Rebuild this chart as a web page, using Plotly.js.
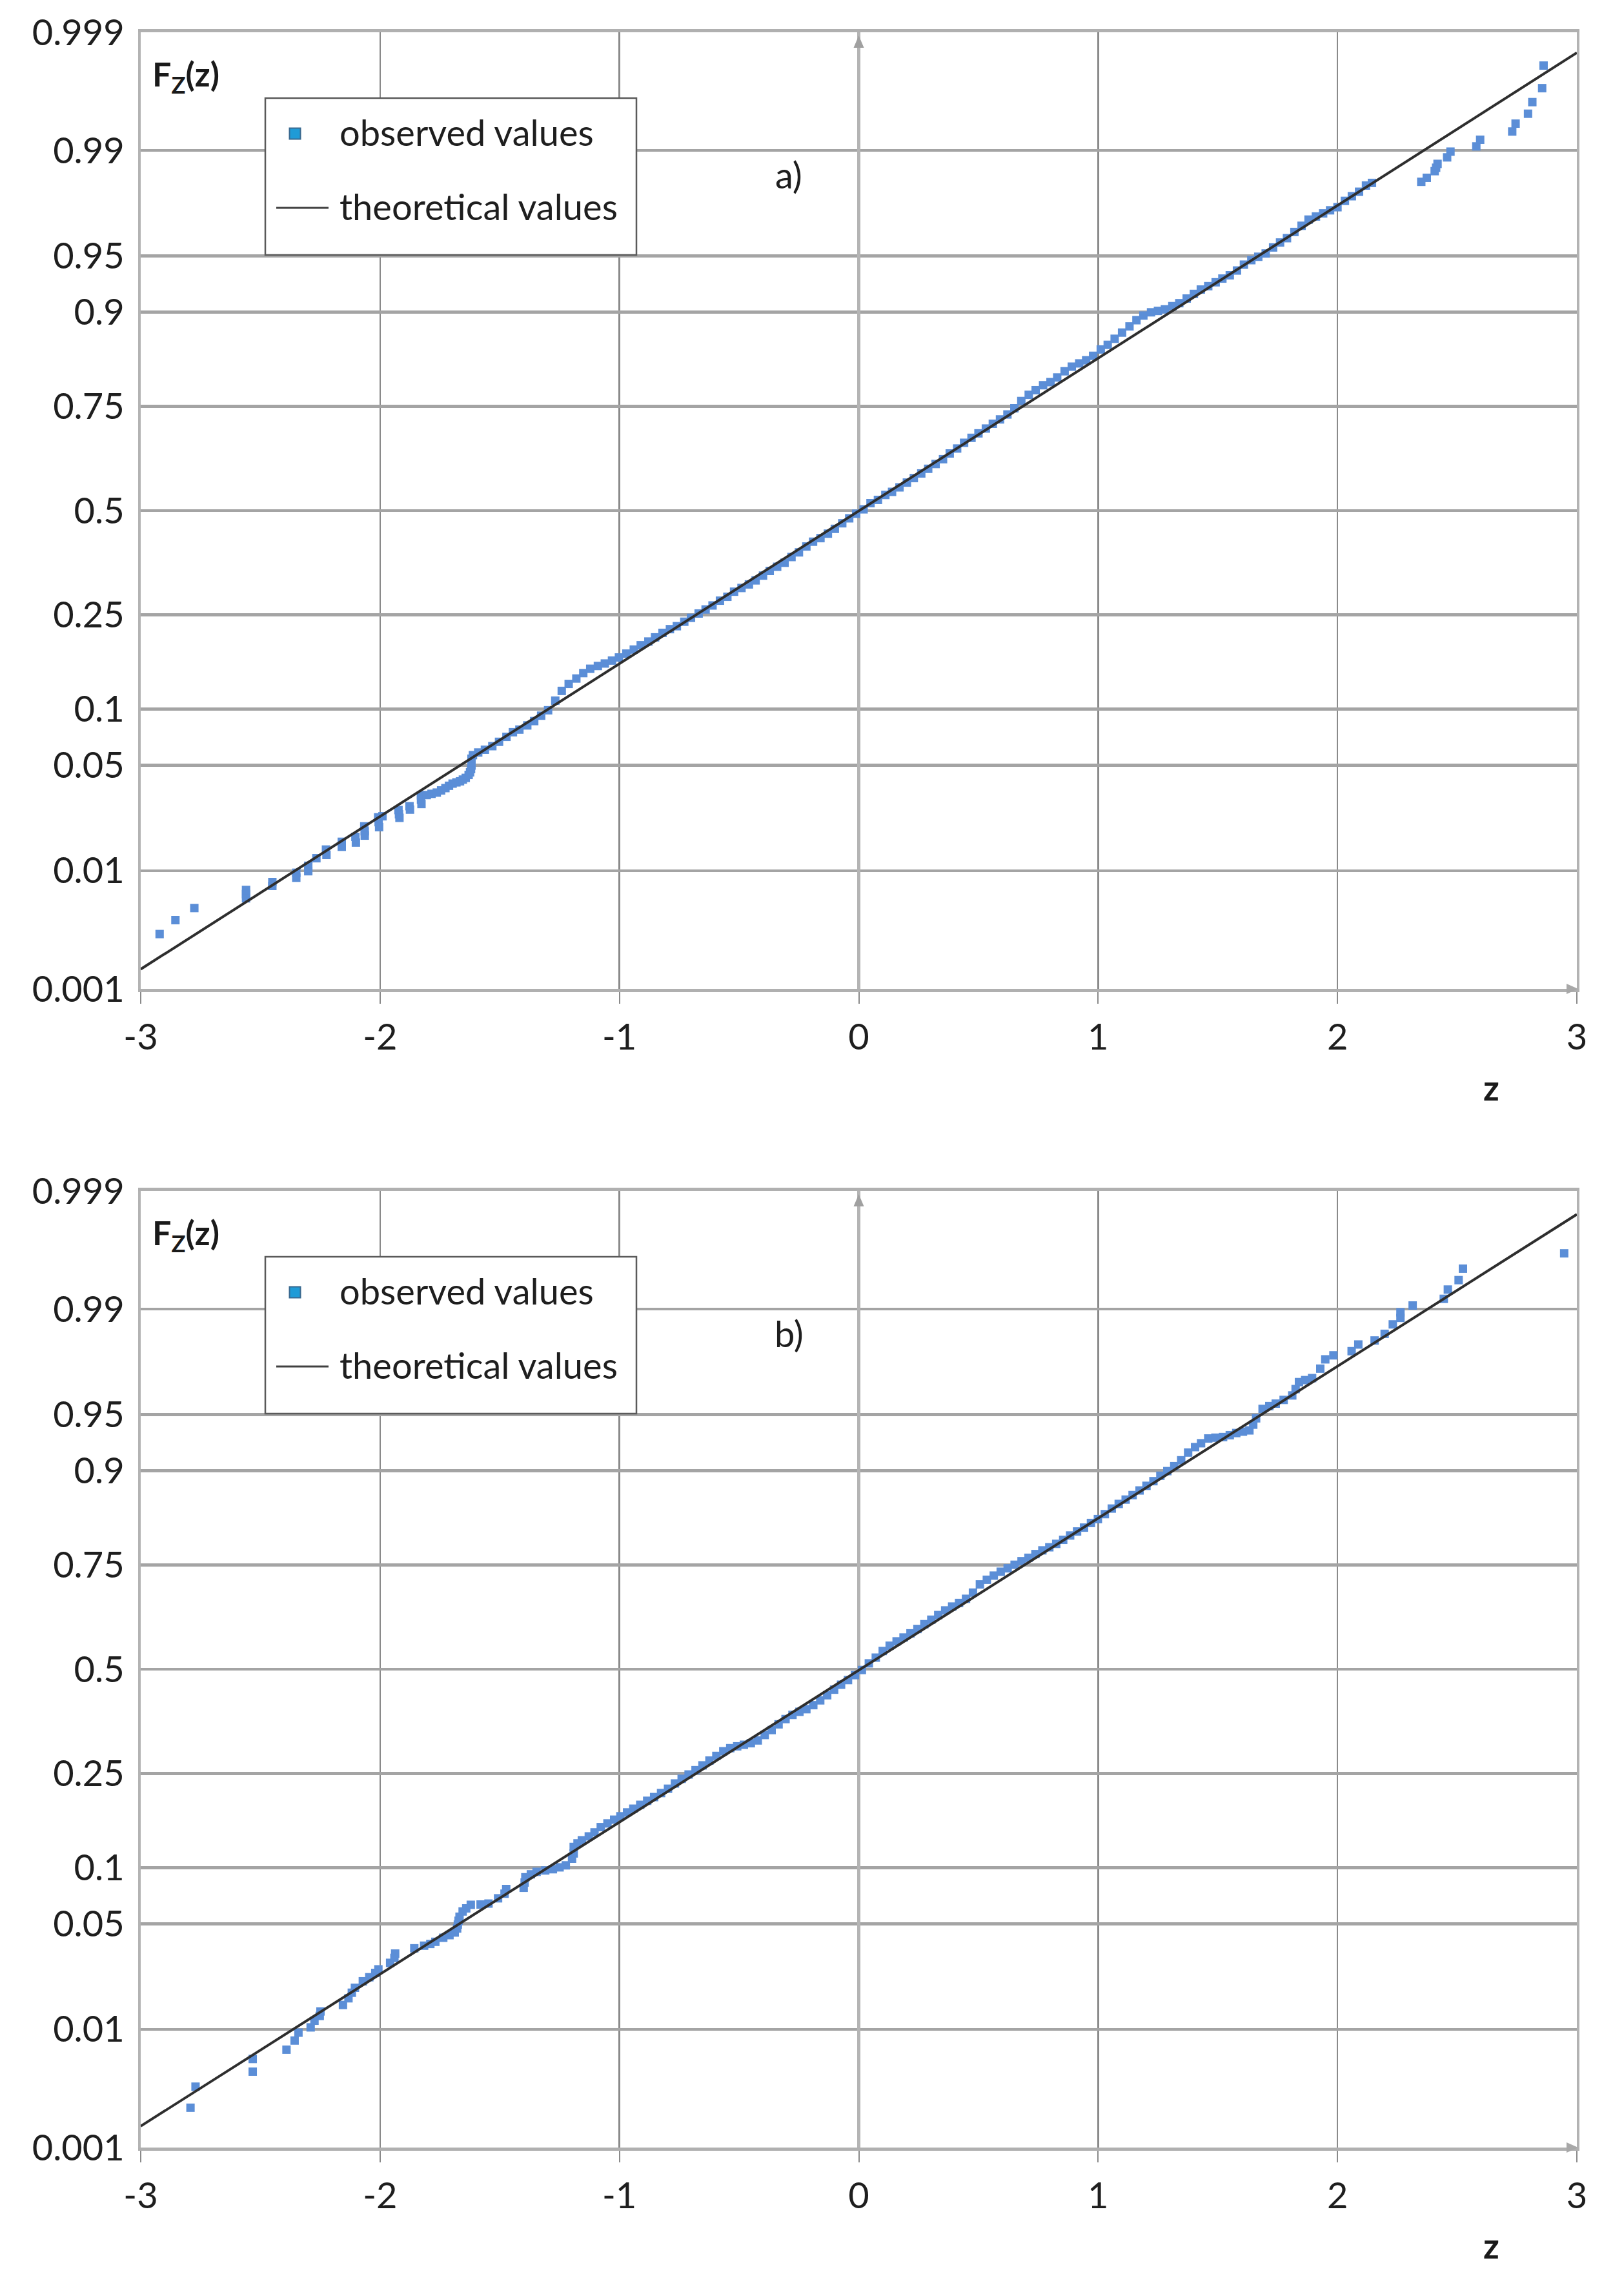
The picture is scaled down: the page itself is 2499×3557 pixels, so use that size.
<!DOCTYPE html>
<html>
<head>
<meta charset="utf-8">
<script src="https://cdn.plot.ly/plotly-3.0.1.min.js"></script>
<style>
html,body{margin:0;padding:0;background:#fff;}
#chart{width:2499px;height:3557px;}
</style>
</head>
<body>
<div id="chart"></div>
<script>
// ---------- DATA ----------
// Probability tick labels of the normal-probability y axis
const probLabels = [0.001, 0.01, 0.05, 0.1, 0.25, 0.5, 0.75, 0.9, 0.95, 0.99, 0.999];
// x tick labels (standardized variable z)
const zTicks = [-3, -2, -1, 0, 1, 2, 3];

// Panel a) observed values: [z, standard-normal quantile of the empirical F]
const observedA = [
[-2.921,-2.736],[-2.855,-2.646],[-2.776,-2.568],[-2.560,-2.451],[-2.560,-2.478],[-2.560,-2.505],
[-2.450,-2.400],[-2.450,-2.425],[-2.350,-2.340],[-2.350,-2.372],[-2.300,-2.295],[-2.300,-2.330],
[-2.266,-2.246],[-2.226,-2.190],[-2.224,-2.225],[-2.160,-2.140],[-2.160,-2.172],[-2.103,-2.108],
[-2.101,-2.145],[-2.066,-2.040],[-2.064,-2.072],[-2.064,-2.100],[-2.008,-1.982],[-2.006,-2.013],
[-2.004,-2.045],[-1.990,-1.975],[-1.923,-1.935],[-1.921,-1.962],[-1.919,-1.985],[-1.877,-1.910],
[-1.875,-1.932],[-1.829,-1.840],[-1.829,-1.868],[-1.827,-1.896],[-1.805,-1.838],[-1.785,-1.830],
[-1.763,-1.822],[-1.745,-1.808],[-1.727,-1.793],[-1.712,-1.778],[-1.697,-1.764],[-1.681,-1.756],
[-1.666,-1.749],[-1.654,-1.738],[-1.642,-1.727],[-1.630,-1.708],[-1.624,-1.691],[-1.620,-1.670],
[-1.618,-1.647],[-1.618,-1.625],[-1.618,-1.603],[-1.612,-1.580],
[-1.590,-1.563],[-1.562,-1.545],[-1.531,-1.522],[-1.503,-1.494],[-1.472,-1.462],[-1.445,-1.432],
[-1.418,-1.415],[-1.385,-1.388],[-1.356,-1.360],[-1.327,-1.325],[-1.298,-1.290],[-1.268,-1.228],
[-1.241,-1.165],[-1.212,-1.120],[-1.180,-1.085],[-1.151,-1.050],[-1.122,-1.022],[-1.090,-1.004],
[-1.061,-0.988],[-1.031,-0.969],[-1.002,-0.949],[-0.971,-0.924],[-0.940,-0.898],[-0.911,-0.870],
[-0.879,-0.846],[-0.851,-0.819],[-0.820,-0.790],[-0.789,-0.766],[-0.760,-0.747],[-0.729,-0.718],
[-0.701,-0.693],[-0.669,-0.665],[-0.640,-0.639],[-0.611,-0.613],[-0.580,-0.582],[-0.549,-0.557],
[-0.521,-0.524],[-0.490,-0.500],[-0.459,-0.477],[-0.431,-0.451],[-0.400,-0.420],[-0.372,-0.390],
[-0.341,-0.363],[-0.310,-0.337],[-0.281,-0.300],[-0.250,-0.270],[-0.219,-0.232],[-0.191,-0.201],
[-0.160,-0.178],[-0.129,-0.149],[-0.100,-0.118],[-0.069,-0.082],[-0.040,-0.050],[-0.011,-0.020],
[0.020,0.008],[0.049,0.048],[0.080,0.069],[0.111,0.101],[0.139,0.121],[0.170,0.150],
[0.201,0.181],[0.230,0.210],[0.261,0.240],[0.290,0.270],[0.321,0.301],[0.352,0.332],
[0.380,0.369],[0.411,0.401],[0.440,0.438],[0.471,0.470],[0.500,0.499],[0.531,0.530],
[0.560,0.561],[0.590,0.589],[0.621,0.621],[0.650,0.661],[0.679,0.708],[0.710,0.748],
[0.739,0.778],[0.770,0.810],[0.801,0.830],[0.829,0.860],[0.860,0.900],[0.890,0.930],
[0.921,0.951],[0.950,0.971],[0.979,1.000],[1.011,1.041],[1.040,1.071],[1.069,1.110],
[1.100,1.150],[1.131,1.190],[1.160,1.230],[1.189,1.260],[1.221,1.281],[1.250,1.290],
[1.279,1.300],[1.310,1.321],[1.339,1.340],[1.370,1.370],[1.400,1.400],[1.429,1.428],
[1.460,1.450],[1.491,1.475],[1.519,1.499],[1.550,1.520],[1.580,1.551],[1.609,1.589],
[1.640,1.618],[1.669,1.640],[1.700,1.661],[1.731,1.700],[1.760,1.732],[1.789,1.760],
[1.820,1.800],[1.850,1.840],[1.879,1.880],[1.910,1.900],[1.940,1.920],[1.969,1.940],
[2.000,1.960],[2.031,2.001],[2.060,2.031],[2.090,2.060],[2.119,2.100],[2.144,2.117],
[2.350,2.124],[2.373,2.150],[2.406,2.193],[2.412,2.215],[2.418,2.240],[2.458,2.282],
[2.472,2.319],[2.580,2.353],[2.596,2.396],[2.730,2.449],[2.744,2.500],[2.796,2.564],
[2.814,2.639],[2.855,2.729],[2.861,2.875]
];

// Panel b) observed values
const observedB = [
[-2.792,-2.833],[-2.771,-2.697],[-2.532,-2.600],[-2.532,-2.518],[-2.391,-2.458],[-2.357,-2.399],
[-2.341,-2.348],[-2.290,-2.314],[-2.274,-2.271],[-2.252,-2.240],[-2.249,-2.211],[-2.155,-2.169],
[-2.132,-2.126],[-2.118,-2.090],[-2.105,-2.058],[-2.072,-2.016],[-2.045,-1.990],[-2.020,-1.962],
[-2.007,-1.939],[-1.958,-1.897],[-1.940,-1.865],[-1.937,-1.837],[-1.857,-1.803],[-1.816,-1.786],
[-1.790,-1.775],[-1.769,-1.761],[-1.736,-1.735],[-1.710,-1.718],[-1.688,-1.701],[-1.678,-1.675],
[-1.675,-1.650],[-1.672,-1.625],[-1.668,-1.599],[-1.655,-1.565],[-1.640,-1.545],[-1.621,-1.522],
[-1.580,-1.520],[-1.547,-1.514],[-1.507,-1.480],[-1.480,-1.450],[-1.473,-1.420],[-1.400,-1.412],
[-1.396,-1.378],[-1.393,-1.344],[-1.370,-1.325],[-1.346,-1.309],[-1.310,-1.300],[-1.278,-1.292],
[-1.250,-1.280],[-1.224,-1.267],[-1.198,-1.224],[-1.191,-1.190],[-1.191,-1.148],[-1.175,-1.125],
[-1.157,-1.105],[-1.128,-1.080],[-1.104,-1.054],[-1.078,-1.020],[-1.050,-0.996],[-1.022,-0.972],
[-0.996,-0.950],[-0.968,-0.925],[-0.942,-0.901],[-0.913,-0.876],[-0.884,-0.850],[-0.855,-0.826],
[-0.826,-0.800],[-0.797,-0.772],[-0.768,-0.738],[-0.740,-0.708],[-0.711,-0.680],[-0.682,-0.652],
[-0.653,-0.621],[-0.624,-0.590],[-0.595,-0.560],[-0.566,-0.530],[-0.537,-0.510],[-0.508,-0.498],
[-0.480,-0.488],[-0.451,-0.478],[-0.422,-0.460],[-0.393,-0.425],[-0.364,-0.393],[-0.335,-0.356],
[-0.306,-0.322],[-0.277,-0.295],[-0.248,-0.275],[-0.219,-0.258],[-0.190,-0.232],[-0.161,-0.201],
[-0.132,-0.168],[-0.103,-0.132],[-0.074,-0.100],[-0.045,-0.070],[-0.016,-0.038],[0.013,-0.005],
[0.042,0.038],[0.071,0.075],[0.100,0.118],[0.129,0.152],[0.158,0.180],[0.187,0.205],
[0.216,0.232],[0.245,0.260],[0.274,0.291],[0.303,0.320],[0.332,0.350],[0.361,0.380],
[0.390,0.405],[0.419,0.428],[0.448,0.455],[0.477,0.495],[0.506,0.548],[0.535,0.578],
[0.564,0.605],[0.593,0.630],[0.622,0.652],[0.651,0.675],[0.680,0.698],[0.709,0.720],
[0.738,0.744],[0.767,0.768],[0.796,0.788],[0.825,0.810],[0.854,0.836],[0.883,0.864],
[0.912,0.890],[0.941,0.915],[0.970,0.945],[0.999,0.970],[1.028,1.002],[1.057,1.038],
[1.086,1.068],[1.115,1.096],[1.144,1.125],[1.173,1.155],[1.202,1.185],[1.231,1.215],
[1.260,1.250],[1.289,1.280],[1.318,1.312],[1.347,1.350],[1.376,1.400],[1.405,1.435],
[1.430,1.460],[1.460,1.491],[1.490,1.496],[1.522,1.500],[1.550,1.512],[1.577,1.526],
[1.605,1.535],[1.632,1.543],[1.648,1.580],[1.660,1.621],[1.687,1.682],[1.715,1.700],
[1.742,1.716],[1.775,1.740],[1.811,1.769],[1.825,1.810],[1.839,1.855],[1.865,1.868],
[1.894,1.881],[1.928,1.942],[1.949,2.002],[1.983,2.028],[2.059,2.055],[2.087,2.098],
[2.155,2.124],[2.197,2.167],[2.231,2.228],[2.263,2.270],[2.263,2.306],[2.314,2.350],
[2.444,2.393],[2.461,2.453],[2.506,2.514],[2.524,2.588],[2.947,2.687]
];

// Theoretical values (straight line in probability-paper coordinates): endpoints
const theoZ = [-3, 3];
const theoQA = [-2.963, 2.958];
const theoQB = [-2.952, 2.939];

// ---------- helpers ----------
function probit(p){
  const a=[-3.969683028665376e+01,2.209460984245205e+02,-2.759285104469687e+02,1.383577518672690e+02,-3.066479806614716e+01,2.506628277459239e+00];
  const b=[-5.447609879822406e+01,1.615858368580409e+02,-1.556989798598866e+02,6.680131188771972e+01,-1.328068155288572e+01];
  const c=[-7.784894002430293e-03,-3.223964580411365e-01,-2.400758277161838e+00,-2.549732539343734e+00,4.374664141464968e+00,2.938163982698783e+00];
  const d=[7.784695709041462e-03,3.224671290700398e-01,2.445134137142996e+00,3.754408661907416e+00];
  const pl=0.02425, ph=1-pl; let q,r;
  if(p<pl){q=Math.sqrt(-2*Math.log(p));return (((((c[0]*q+c[1])*q+c[2])*q+c[3])*q+c[4])*q+c[5])/((((d[0]*q+d[1])*q+d[2])*q+d[3])*q+1);}
  if(p<=ph){q=p-0.5;r=q*q;return (((((a[0]*r+a[1])*r+a[2])*r+a[3])*r+a[4])*r+a[5])*q/(((((b[0]*r+b[1])*r+b[2])*r+b[3])*r+b[4])*r+1);}
  q=Math.sqrt(-2*Math.log(1-p));return -(((((c[0]*q+c[1])*q+c[2])*q+c[3])*q+c[4])*q+c[5])/((((d[0]*q+d[1])*q+d[2])*q+d[3])*q+1);
}
const W=2499, H=3557, ML=218, MR=56, MT=50, MB=230;
const PW=W-ML-MR, PH=H-MT-MB;
const fx = X => (X-ML)/PW;
const fy = Y => (H-MB-Y)/PH;

const yTickVals = probLabels.map(probit);
const yTickText = probLabels.map(String);
const yRange = [probit(0.001), probit(0.999)];

const FONT = 'Lato, "Open Sans", sans-serif';
const markerColor = '#5b8ed7';
const TXT = 56;

function obsTrace(data, xa, ya){
  return {type:'scatter', mode:'markers', x:data.map(d=>d[0]), y:data.map(d=>d[1]),
    xaxis:xa, yaxis:ya, showlegend:false, hoverinfo:'skip',
    marker:{symbol:'square', size:13, color:markerColor, line:{width:0}}};
}
function theoTrace(qs, xa, ya){
  return {type:'scatter', mode:'lines', x:theoZ, y:qs, xaxis:xa, yaxis:ya,
    showlegend:false, hoverinfo:'skip', line:{color:'#2e2e2e', width:4}};
}

const traces = [
  obsTrace(observedA,'x','y'), theoTrace(theoQA,'x','y'),
  obsTrace(observedB,'x2','y2'), theoTrace(theoQB,'x2','y2')
];

function xAxis(anchor){
  return {anchor:anchor, domain:[0,1], range:[-3,3], tickmode:'array', tickvals:zTicks,
    ticktext:zTicks.map(String), showgrid:true, gridcolor:'#8a8a8a', gridwidth:2.5,
    zeroline:true, zerolinecolor:'#b4b4b4', zerolinewidth:5,
    showline:true, linecolor:'#b0b0b0', linewidth:5, mirror:true,
    ticks:'outside', ticklen:18, tickwidth:2, tickcolor:'#8a8a8a', ticklabelstandoff:4,
    tickfont:{family:FONT, size:TXT, color:'#1e1e1e'}, fixedrange:true};
}
function yAxis(anchor, dom){
  return {anchor:anchor, domain:dom, range:yRange, tickmode:'array', tickvals:yTickVals,
    ticktext:yTickText, showgrid:true, gridcolor:'#a4a4a4', gridwidth:4.5,
    zeroline:false, showline:true, linecolor:'#b3b3b3', linewidth:4, mirror:true,
    ticks:'', ticklabelstandoff:10,
    tickfont:{family:FONT, size:TXT, color:'#1e1e1e'}, fixedrange:true};
}

const shapes = [];
const annotations = [];
const panels = [{off:0, name:'a)'}, {off:1795, name:'b)'}];
const xAxisPx = {left:218, right:2443, zero:1330.5};
panels.forEach(p=>{
  const o = p.off;
  // legend box
  shapes.push({type:'rect', xref:'paper', yref:'paper', x0:fx(411), x1:fx(986), y0:fy(152+o), y1:fy(395+o),
    line:{color:'#5a5a5a', width:2.5}, fillcolor:'#ffffff', layer:'above'});
  shapes.push({type:'rect', xref:'paper', yref:'paper', x0:fx(448.5), x1:fx(465.5), y0:fy(198.5+o), y1:fy(215.5+o),
    line:{color:'#3a6a90', width:2}, fillcolor:'#1f9bd7', layer:'above'});
  shapes.push({type:'line', xref:'paper', yref:'paper', x0:fx(428), x1:fx(509), y0:fy(322+o), y1:fy(322+o),
    line:{color:'#404040', width:3}, layer:'above'});
  // arrow heads of the axes (right end of z axis, top of the vertical axis at z = 0)
  const yb = 1532+o, yt = 52+o;
  shapes.push({type:'path', xref:'paper', yref:'paper', layer:'above',
    path:`M ${fx(xAxisPx.right+2)} ${fy(yb)} L ${fx(xAxisPx.right-16)} ${fy(yb-8)} L ${fx(xAxisPx.right-16)} ${fy(yb+8)} Z`,
    fillcolor:'#a8a8a8', line:{width:0}});
  shapes.push({type:'path', xref:'paper', yref:'paper', layer:'above',
    path:`M ${fx(xAxisPx.zero)} ${fy(yt+3)} L ${fx(xAxisPx.zero-8)} ${fy(yt+22)} L ${fx(xAxisPx.zero+8)} ${fy(yt+22)} Z`,
    fillcolor:'#a0a0a0', line:{width:0}});
  annotations.push({xref:'paper', yref:'paper', x:fx(524), y:fy(204+o), xanchor:'left', yanchor:'middle',
    text:'observed values', showarrow:false, font:{family:FONT, size:TXT, color:'#1e1e1e'}});
  annotations.push({xref:'paper', yref:'paper', x:fx(524), y:fy(319+o), xanchor:'left', yanchor:'middle',
    text:'theoretical values', showarrow:false, font:{family:FONT, size:TXT, color:'#1e1e1e'}});
  // axis name labels
  annotations.push({xref:'paper', yref:'paper', x:fx(234), y:fy(118+o), xanchor:'left', yanchor:'middle',
    text:'<b>F<sub>Z</sub>(z)</b>', showarrow:false, font:{family:FONT, size:52, color:'#1a1a1a'}});
  annotations.push({xref:'paper', yref:'paper', x:fx(2310), y:fy(1684+o), xanchor:'center', yanchor:'middle',
    text:'<b>z</b>', showarrow:false, font:{family:FONT, size:54, color:'#1a1a1a'}});
  annotations.push({xref:'paper', yref:'paper', x:fx(1222), y:fy(270+o), xanchor:'center', yanchor:'middle',
    text:p.name, showarrow:false, font:{family:FONT, size:TXT, color:'#1e1e1e'}});
});

const layout = {
  width:W, height:H, margin:{l:ML, r:MR, t:MT, b:MB, pad:0},
  paper_bgcolor:'#ffffff', plot_bgcolor:'#ffffff', showlegend:false,
  font:{family:FONT, size:TXT, color:'#1e1e1e'},
  xaxis:xAxis('y'), yaxis:yAxis('x', [fy(1532), 1]),
  xaxis2:xAxis('y2'), yaxis2:yAxis('x2', [0, fy(1845)]),
  shapes:shapes, annotations:annotations
};

Plotly.newPlot('chart', traces, layout, {displayModeBar:false, staticPlot:true});
</script>
</body>
</html>
